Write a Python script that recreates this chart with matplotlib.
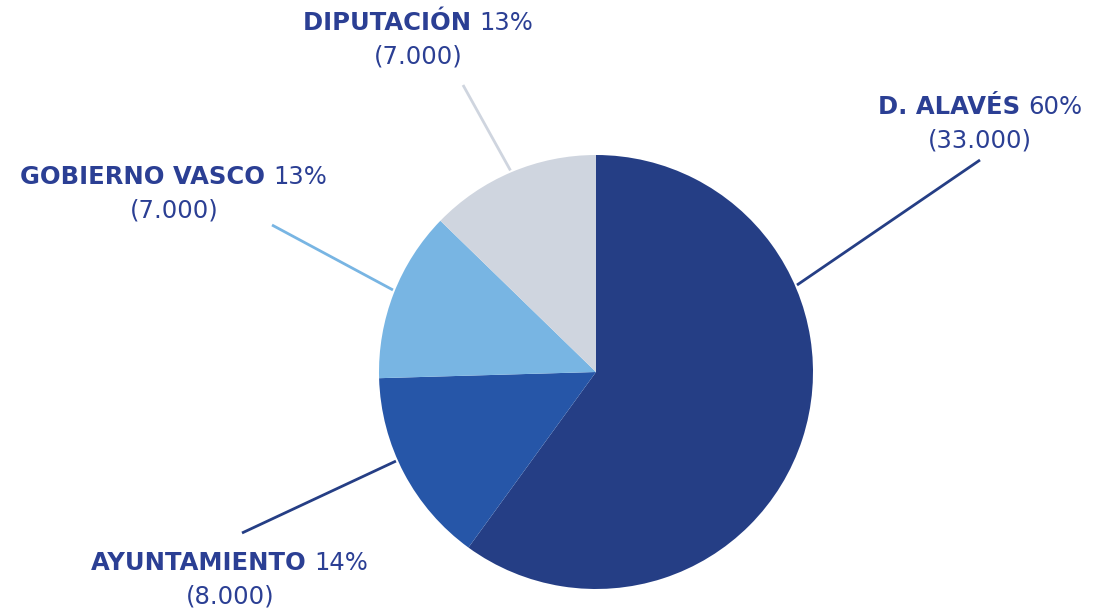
import numpy as np
import matplotlib
matplotlib.use("Agg")
import matplotlib.pyplot as plt
from matplotlib.offsetbox import TextArea, HPacker, VPacker, AnnotationBbox

labels = ["D. ALAVÉS", "AYUNTAMIENTO", "GOBIERNO VASCO", "DIPUTACIÓN"]
values = [33000, 8000, 7000, 7000]
percents = ["60%", "14%", "13%", "13%"]
amounts = ["(33.000)", "(8.000)", "(7.000)", "(7.000)"]
colors = ["#253e85", "#2656a8", "#78b5e3", "#cfd5df"]
line_colors = ["#253e85", "#253e85", "#78b5e3", "#cfd5df"]

TEXT = "#2b3f94"
W, H = 1109, 608
CX, CY, R = 596, H - 372, 217

# where each leader line meets the pie (deg) and where label/line end sit (px)
line_angles = [23.4, 204, 158, 113]
line_ends = [(980, 160), (242, 533), (272, 225), (463, 85)]
label_pos = [(980, 124), (230, 580), (174, 194), (418, 40)]

fig = plt.figure(figsize=(W / 100, H / 100), dpi=100)
ax = fig.add_axes([0, 0, 1, 1])

ax.pie(values, colors=colors, startangle=90, counterclock=False,
       center=(CX, CY), radius=R, frame=True,
       wedgeprops=dict(linewidth=0))
ax.set_xlim(0, W)
ax.set_ylim(0, H)
ax.set_aspect("equal")
ax.axis("off")

for i in range(len(labels)):
    a = np.radians(line_angles[i])
    x0 = CX + (R + 2) * np.cos(a)
    y0 = CY + (R + 2) * np.sin(a)
    ex, ey = line_ends[i]
    ax.plot([x0, ex], [y0, H - ey], color=line_colors[i], lw=2, solid_capstyle="butt")

    fs = 17.5
    name = TextArea(labels[i] + " ", textprops=dict(color=TEXT, fontsize=fs, fontweight="bold",
                                                     family="DejaVu Sans"))
    pct = TextArea(percents[i], textprops=dict(color=TEXT, fontsize=fs, family="DejaVu Sans"))
    row1 = HPacker(children=[name, pct], align="baseline", pad=0, sep=0)
    row2 = TextArea(amounts[i], textprops=dict(color=TEXT, fontsize=fs, family="DejaVu Sans"))
    box = VPacker(children=[row1, row2], align="center", pad=0, sep=7)
    lx, ly = label_pos[i]
    ab = AnnotationBbox(box, (lx, H - ly), frameon=False, box_alignment=(0.5, 0.5))
    ax.add_artist(ab)

fig.savefig("out.png", dpi=100)
